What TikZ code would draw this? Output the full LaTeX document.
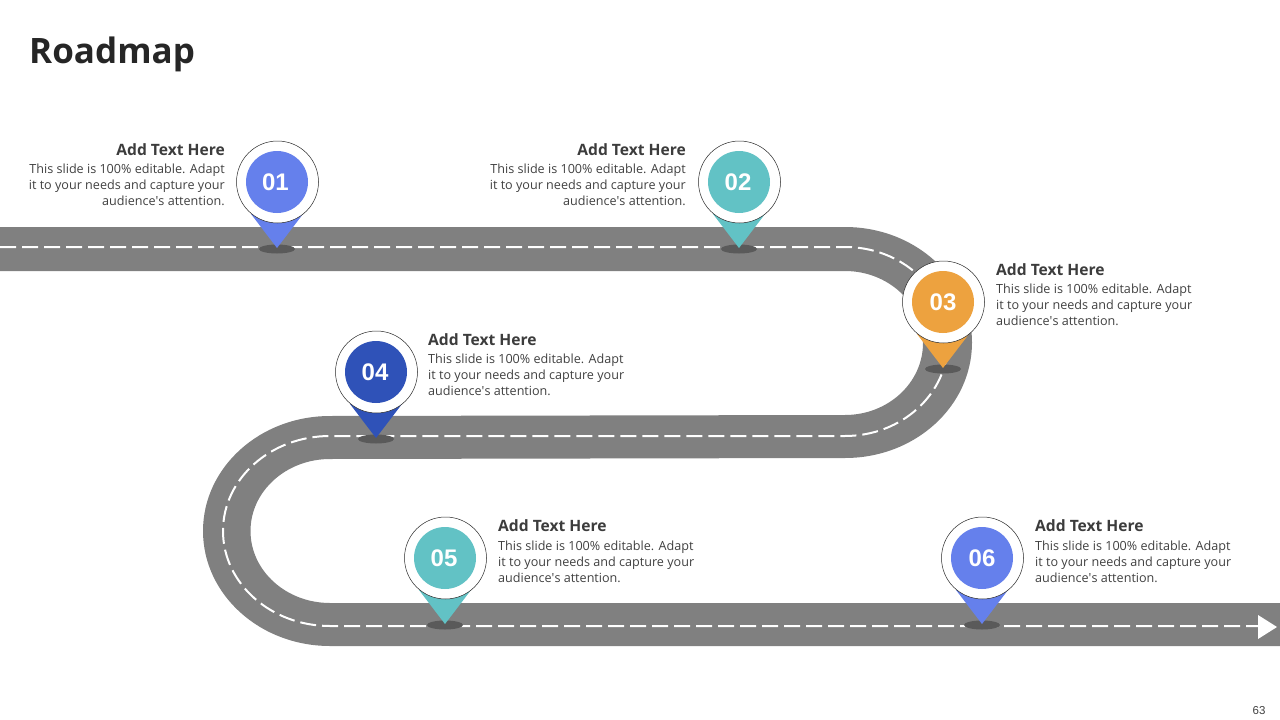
\documentclass[tikz,border=0pt]{standalone}
\usepackage{fontspec}
\setmainfont{Open Sans}
\newfontfamily\numfont{Liberation Sans}
\usetikzlibrary{shapes.geometric}
\definecolor{pinblue}{HTML}{6580EC}
\definecolor{pinteal}{HTML}{62C2C5}
\definecolor{pinorange}{HTML}{EDA23F}
\definecolor{pinnavy}{HTML}{2F52B8}
\definecolor{roadgrey}{HTML}{808080}
\definecolor{spotgrey}{HTML}{5A5A5A}
\definecolor{inkdark}{HTML}{262626}
\definecolor{inkbody}{HTML}{404040}
\tikzset{
  roadfill/.style={fill=roadgrey},
  laneline/.style={draw=white,line width=2pt,dash pattern=on 16pt off 6pt},
  halo/.style={circle,draw=black!85,line width=0.5pt,fill=white,minimum size=82pt,inner sep=0pt},
  disc/.style={circle,minimum size=62pt,inner sep=0pt},
  disclabel/.style={inner sep=0pt,text=white,font=\numfont\bfseries\fontsize{24}{24}\selectfont},
  shadowspot/.style={ellipse,fill=spotgrey,minimum width=36pt,minimum height=9pt,inner sep=0pt},
  headtext/.style={inner sep=0pt,text=inkdark!90,font=\bfseries\fontsize{15.6}{18}\selectfont},
  bodytext/.style={inner sep=0pt,text=inkbody,font=\fontsize{12.6}{16}\selectfont},
}
\newcommand{\roadpin}[6]{% name, x, y of centre, colour, label, label x offset
  \node[shadowspot] (#1s) at (#2,#3+67) {};
  \fill[#4] (#2-26,#3+32) -- (#2+26,#3+32) -- (#2,#3+66) -- cycle;
  \node[halo] (#1h) at (#2+0.5,#3) {};
  \node[disc,fill=#4] (#1d) at (#2,#3) {};
  \node[disclabel] (#1l) at (#2+#6,#3) {#5};
}
\newcommand{\blurb}{This slide is 100\% editable. Adapt\\it to your needs and capture your\\audience\textquotesingle s attention.}
\newcommand{\lefttext}[3]{%
  \node[headtext,anchor=base east] (#1a) at (#2,#3) {Add Text Here};
  \node[bodytext,anchor=base east,align=right] (#1b) at (#2,#3+50) {\blurb};
}
\newcommand{\righttext}[4]{%
  \node[headtext,anchor=base west] (#1a) at (#2,#3) {Add Text Here};
  \node[bodytext,anchor=base west,align=left] (#1b) at (#2,#3+#4) {\blurb};
}
\begin{document}
\begin{tikzpicture}[x=1pt,y=-1pt]
\useasboundingbox (0,0) rectangle (1280,720);
\node[anchor=base west,inner sep=0pt,text=inkdark,font=\bfseries\fontsize{35}{40}\selectfont] (title) at (29,63) {Roadmap};
\fill[roadfill] (0,227) -- (845,227) arc[start angle=-90,end angle=90,x radius=127,y radius=115.5]
  -- (330,459) arc[start angle=270,end angle=90,x radius=79.5,y radius=72]
  -- (1280,603) -- (1280,646) -- (330,646)
  arc[start angle=90,end angle=270,x radius=127,y radius=115]
  -- (845,415) arc[start angle=90,end angle=-90,x radius=78,y radius=72]
  -- (0,271) -- cycle;
\draw[laneline] (0,247) -- (845,247) arc[start angle=-90,end angle=90,x radius=103,y radius=94.5] -- (330,436) arc[start angle=270,end angle=90,x radius=107,y radius=95] -- (1258,626);
\fill[white] (1258,615) -- (1277,627) -- (1258,639) -- cycle;
\roadpin{p1}{277}{182}{pinblue}{01}{-1.5}
\roadpin{p2}{739}{182}{pinteal}{02}{-1}
\roadpin{p3}{943}{302}{pinorange}{03}{0}
\roadpin{p4}{376}{372}{pinnavy}{04}{-1}
\roadpin{p5}{445}{558}{pinteal}{05}{-1}
\roadpin{p6}{982}{558}{pinblue}{06}{0}
\lefttext{t1}{225}{155}
\lefttext{t2}{686}{155}
\righttext{t3}{996}{275}{50}
\righttext{t4}{428}{345}{50}
\righttext{t5}{498}{531}{51}
\righttext{t6}{1035}{531}{51}
\node[inner sep=0pt,anchor=base,text=inkbody,font=\numfont\fontsize{11.5}{14}\selectfont] (pageno) at (1259,714) {63};
\end{tikzpicture}
\end{document}
